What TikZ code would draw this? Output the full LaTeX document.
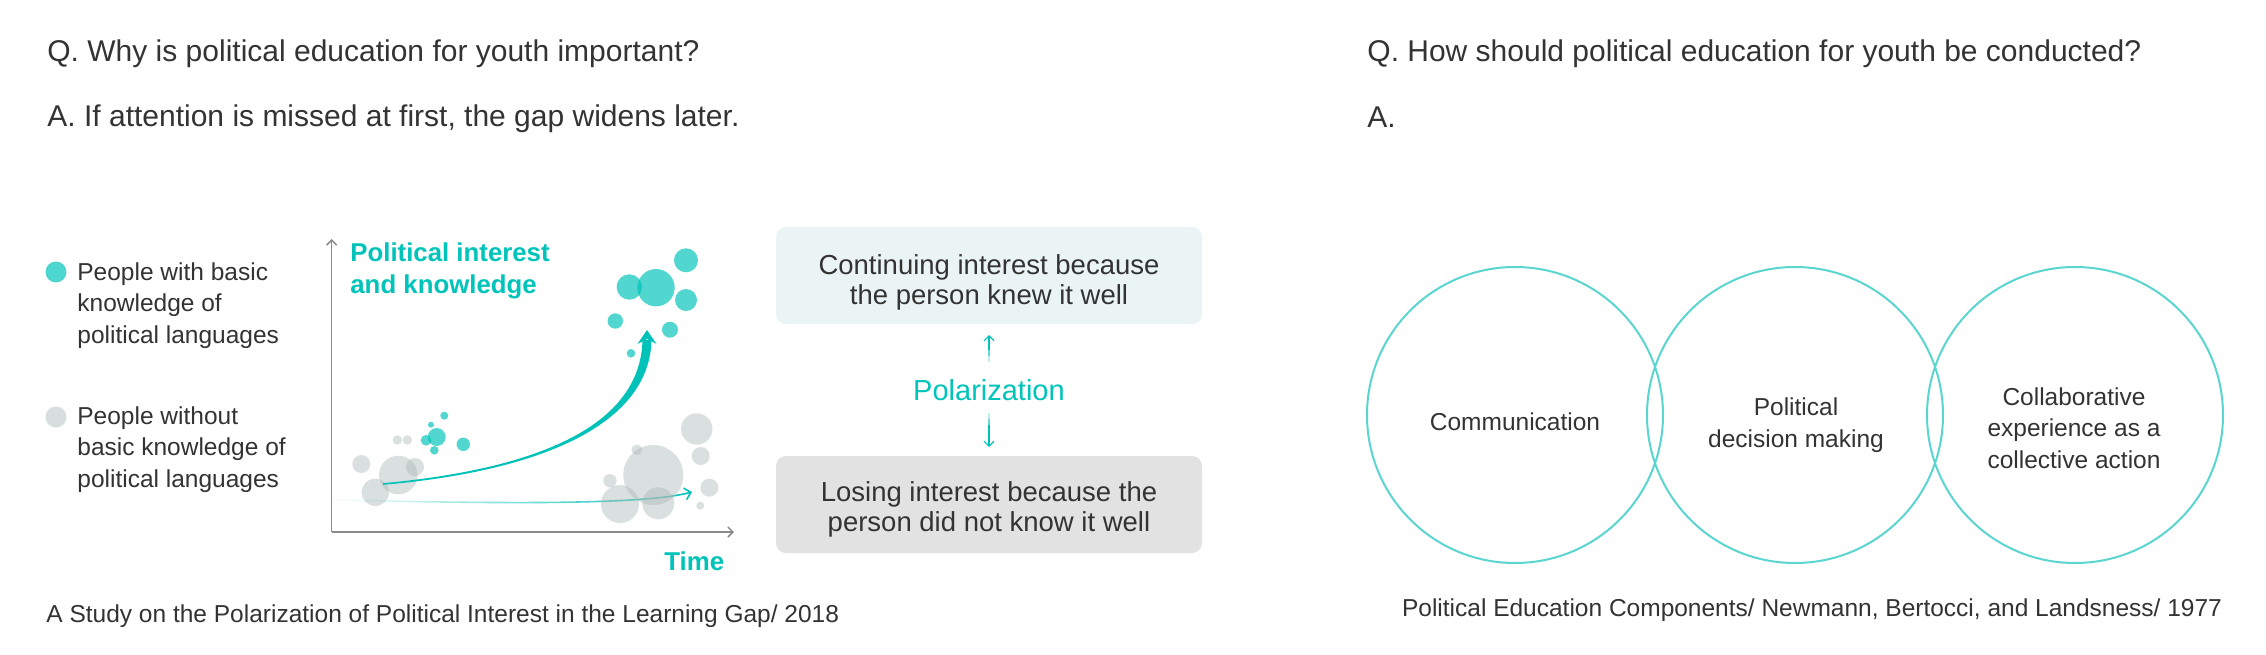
\documentclass[tikz,border=0pt]{standalone}
\usepackage{fontspec}
\setmainfont{Liberation Sans}
\usetikzlibrary{arrows.meta,fadings}
\definecolor{tealtxt}{HTML}{00C4B9}
\definecolor{tealarr}{HTML}{00C2B8}
\definecolor{tealbub}{HTML}{00C4BA}
\definecolor{greybub}{HTML}{AEB9B9}
\definecolor{vennline}{HTML}{5AD5D0}
\definecolor{txtdark}{HTML}{333333}
\definecolor{axisgrey}{HTML}{8A8A8A}
\definecolor{boxteal}{HTML}{EAF4F4}
\definecolor{boxgrey}{HTML}{E2E2E2}
\definecolor{legteal}{HTML}{4DD5CF}
\definecolor{leggrey}{HTML}{D8DDDD}
\tikzfading[name=faderight, left color=transparent!100, middle color=transparent!25, right color=transparent!0]
\tikzset{
  txt/.style={inner sep=0pt, text=txtdark, font=\fontsize{12.25}{15}\selectfont},
  titletxt/.style={inner sep=0pt, text=txtdark, font=\fontsize{15}{18}\selectfont, anchor=base west},
  boxtxt/.style={inner sep=0pt, text=txtdark, font=\fontsize{13.75}{16}\selectfont, anchor=base},
  lbl/.style={inner sep=0pt, text=tealtxt, font=\bfseries\fontsize{12.9}{16}\selectfont, anchor=base west},
  panel/.style={rounded corners=5pt, minimum width=213pt, minimum height=48.5pt, inner sep=0pt},
  venn/.style={circle, draw=vennline, line width=1pt, minimum size=148pt, inner sep=0pt},
  legdot/.style={circle, minimum size=10.5pt, inner sep=0pt},
  axisline/.style={draw=axisgrey, line width=0.75pt, -{Straight Barb[length=2.5pt,width=5pt]}},
  smallarr/.style={draw=tealarr, line width=0.6pt, -{Straight Barb[length=2.5pt,width=5pt]}},
  smallseg/.style={draw=tealarr, line width=0.6pt},
  tbub/.style={fill=tealbub, fill opacity=0.68},
  gbub/.style={fill=greybub, fill opacity=0.45},
}
\begin{document}
\begin{tikzpicture}[x=0.5pt,y=-0.5pt]
\path[use as bounding box, fill=white] (0,0) rectangle (2266,654);

% titles
\node[titletxt] (q1) at (47,61) {Q. Why is political education for youth important?};
\node[titletxt] (a1) at (47,126.7) {A. If attention is missed at first, the gap widens later.};
\node[titletxt] (q2) at (1367,61) {Q. How should political education for youth be conducted?};
\node[titletxt] (a2) at (1367,127) {A.};

% legend
\node[legdot, fill=legteal] (ldotA) at (56,272) {};
\node[txt, anchor=base west] (legA1) at (77,280) {People with basic};
\node[txt, anchor=base west] (legA2) at (77,311.5) {knowledge of};
\node[txt, anchor=base west] (legA3) at (77,343) {political languages};
\node[legdot, fill=leggrey] (ldotB) at (56,417) {};
\node[txt, anchor=base west] (legB1) at (77,424) {People without};
\node[txt, anchor=base west] (legB2) at (77,455.5) {basic knowledge of};
\node[txt, anchor=base west] (legB3) at (77,487) {political languages};

% axes
\coordinate (O) at (331.7,532);
\coordinate (ytop) at (331.7,239);
\coordinate (xend) at (734,532);
\draw[axisline] (O) -- (ytop);
\draw[axisline] (O) -- (xend);
\node[lbl] (ylab1) at (350,261.7) {Political interest};
\node[lbl] (ylab2) at (350,293.5) {and knowledge};
\node[lbl] (xlab) at (664,570.7) {Time};

% thin fading arrow
\coordinate (fs) at (332,500);
\coordinate (fe) at (692,492);
\draw[draw=tealarr, line width=0.8pt, path fading=faderight, -{Straight Barb[length=3pt,width=6pt]}] (fs) .. controls (480,503) and (640,506) .. (fe);

% grey bubbles
\foreach \x/\y/\r in {361.3/464/9, 398.3/475/19.3, 415/467/9, 375.3/492.3/13.7, 397.3/440/4.7, 407.3/440/4.7, 653.3/475/30, 636.7/449.7/5.3, 610/480.7/6.7, 620/504/19, 658.3/503.3/16, 696.7/429/15.7, 700.7/456/9, 709.3/487.7/9, 700.3/505.7/4}
  \fill[gbub] (\x,\y) circle (\r);

% big tapered arrow
\coordinate (bs) at (383,484);
\coordinate (be) at (647,330);
\fill[tealarr] (383,483.2) .. controls (540,468.7) and (640.5,425) .. (642.5,340) -- (651.5,340) .. controls (649.5,425) and (540,471.3) .. (383,484.8) -- cycle;
\fill[tealarr] (be) -- (656.5,344) -- (647,339) -- (637.5,344) -- cycle;

% teal bubbles
\foreach \x/\y/\r in {444.3/415.7/4, 431/424.7/3, 436.7/437/9, 426/440.3/5.3, 434.3/450.3/4.3, 463.3/444.3/6.7, 686/260.3/12, 656/287.7/18.7, 629.3/287/12.7, 686/300/11, 615.3/321/7.7, 670/329.7/8, 631/353.3/4.3}
  \fill[tbub] (\x,\y) circle (\r);

% polarization boxes
\node[panel, fill=boxteal] (boxTop) at (989,275.5) {};
\node[panel, fill=boxgrey] (boxBot) at (989,504.5) {};
\node[boxtxt] (bt1) at (989,274) {Continuing interest because};
\node[boxtxt] (bt2) at (989,304) {the person knew it well};
\node[boxtxt] (bb1) at (989,501.7) {Losing interest because the};
\node[boxtxt] (bb2) at (989,531.7) {person did not know it well};
\node[inner sep=0pt, text=tealtxt, font=\fontsize{14.5}{17}\selectfont, anchor=base] (pol) at (989,400) {Polarization};
\coordinate (upS) at (989,362);
\coordinate (upM1) at (989,356);
\coordinate (upM2) at (989,350);
\coordinate (upE) at (989,335);
\coordinate (dnS) at (989,413);
\coordinate (dnM1) at (989,419);
\coordinate (dnM2) at (989,425);
\coordinate (dnE) at (989,447);
\draw[smallseg, draw opacity=0.25] (upS) -- (upM1);
\draw[smallseg, draw opacity=0.6] (upM1) -- (upM2);
\draw[smallarr] (upM2) -- (upE);
\draw[smallseg, draw opacity=0.25] (dnS) -- (dnM1);
\draw[smallseg, draw opacity=0.6] (dnM1) -- (dnM2);
\draw[smallarr] (dnM2) -- (dnE);

% left caption
\node[txt, anchor=base west] (cap1) at (46,622) {A Study on the Polarization of Political Interest in the Learning Gap/ 2018};

% venn
\node[venn] (c1) at (1515,415) {};
\node[venn] (c2) at (1795,415) {};
\node[venn] (c3) at (2075,415) {};
\node[txt, anchor=base] (t1) at (1515,430.5) {Communication};
\node[txt, anchor=base] (t2a) at (1796,415.7) {Political};
\node[txt, anchor=base] (t2b) at (1796,447.3) {decision making};
\node[txt, anchor=base] (t3a) at (2074,405) {Collaborative};
\node[txt, anchor=base] (t3b) at (2074,436.7) {experience as a};
\node[txt, anchor=base] (t3c) at (2074,468.3) {collective action};
\node[txt, anchor=base] (cap2) at (1812,616) {Political Education Components/ Newmann, Bertocci, and Landsness/ 1977};
\end{tikzpicture}
\end{document}
